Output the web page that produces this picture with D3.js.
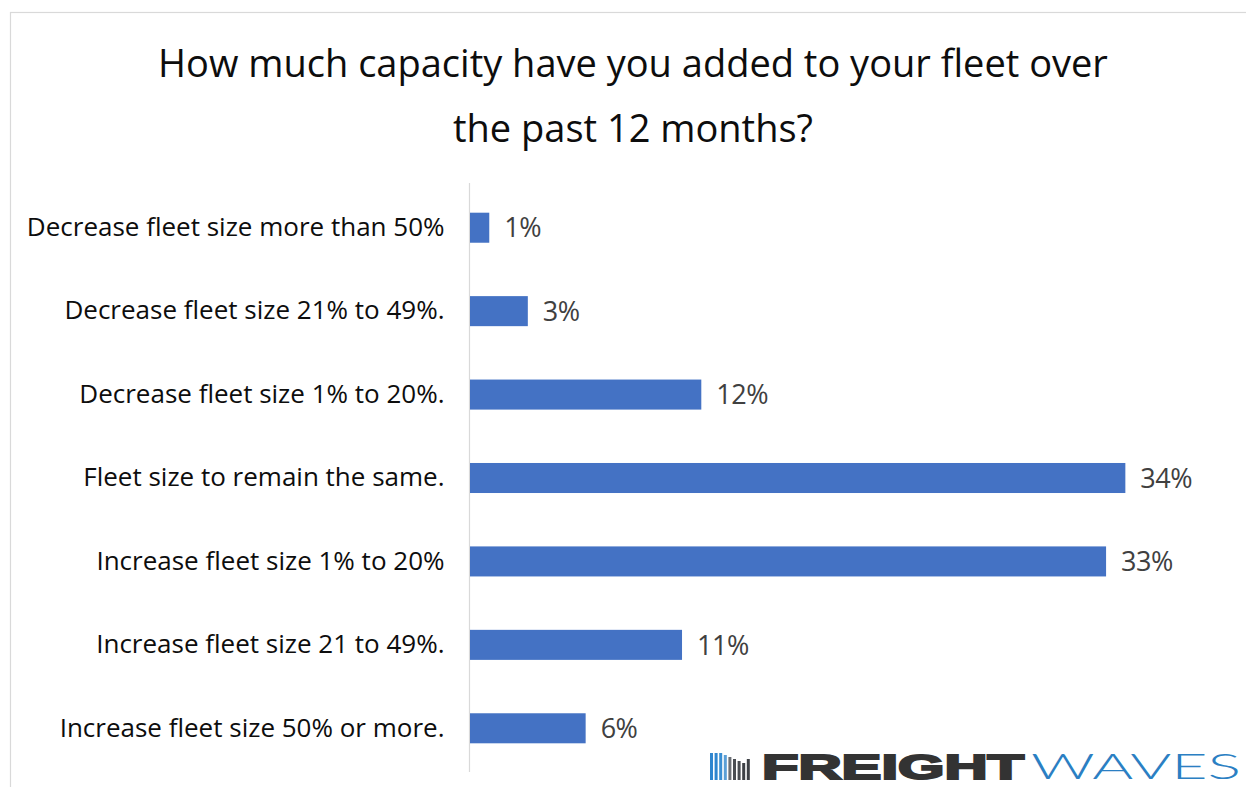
<!DOCTYPE html>
<html>
<head>
<meta charset="utf-8">
<script src="https://cdn.jsdelivr.net/npm/d3@7"></script>
<style>
  html, body { margin: 0; padding: 0; background: #ffffff; }
  svg { display: block; }
</style>
</head>
<body>
<svg id="chart" width="1246" height="787"></svg>
<script>
// Survey answers, top to bottom
const categories = [
  "Decrease fleet size more than 50%",
  "Decrease fleet size 21% to 49%.",
  "Decrease fleet size 1% to 20%.",
  "Fleet size to remain the same.",
  "Increase fleet size 1% to 20%",
  "Increase fleet size 21 to 49%.",
  "Increase fleet size 50% or more."
];
// Share of respondents, in percent
const shares = [1, 3, 12, 34, 33, 11, 6];
const titleLines = [
  "How much capacity have you added to your fleet over",
  "the past 12 months?"
];

const data = categories.map((c, i) => ({ category: c, value: shares[i] }));

const svg = d3.select("#chart");
const W = 1246, H = 787;
const FONT = "'Open Sans', 'Noto Sans', sans-serif";

// Outer frame of the chart area
svg.append("rect")
  .attr("x", 10.5).attr("y", 12.5)
  .attr("width", W + 20).attr("height", H + 20)
  .attr("fill", "#ffffff")
  .attr("stroke", "#d9d9d9")
  .attr("stroke-width", 1.2);

// Title
svg.append("g").selectAll("text")
  .data(titleLines)
  .join("text")
  .attr("x", 633)
  .attr("y", (d, i) => 77 + i * 65)
  .attr("text-anchor", "middle")
  .attr("font-family", FONT)
  .attr("font-size", 38)
  .attr("font-weight", 500)
  .attr("fill", "#0d0d0d")
  .text(d => d);

const x = d3.scaleLinear().domain([0, 40]).range([470, 1241]);
const y = d3.scaleBand()
  .domain(categories)
  .range([186, 770])
  .paddingInner(0.64)
  .paddingOuter(0.32);

// Category axis: the vertical line plus the answer labels
const yAxis = d3.axisLeft(y).tickSize(0).tickPadding(25);
const gy = svg.append("g")
  .attr("transform", `translate(${x(0) - 0.5},0)`)
  .call(yAxis);
gy.select(".domain").remove();
gy.append("line")
  .attr("x1", 0).attr("x2", 0)
  .attr("y1", 183).attr("y2", 772)
  .attr("stroke", "#d9d9d9")
  .attr("stroke-width", 1.2);
gy.selectAll(".tick text")
  .attr("font-family", FONT)
  .attr("font-size", 26)
  .attr("fill", "#0d0d0d");

// Bars
svg.append("g").selectAll("rect")
  .data(data)
  .join("rect")
  .attr("x", x(0))
  .attr("y", d => y(d.category))
  .attr("width", d => x(d.value) - x(0))
  .attr("height", y.bandwidth())
  .attr("fill", "#4472c4");

// Value labels
svg.append("g").selectAll("text")
  .data(data)
  .join("text")
  .attr("x", d => x(d.value) + 15)
  .attr("y", d => y(d.category) + y.bandwidth() / 2)
  .attr("dy", "0.36em")
  .attr("font-family", FONT)
  .attr("font-size", 27)
  .attr("letter-spacing", "-0.5")
  .attr("fill", "#404040")
  .text(d => d.value + "%");

// FreightWaves wordmark in the lower right corner
const logo = svg.append("g");
const iconBars = [
  { h: 27, c: "#2f86cf" }, { h: 27, c: "#2f86cf" }, { h: 27, c: "#3a8fd3" },
  { h: 25, c: "#5a9fd6" }, { h: 23, c: "#6b6f75" }, { h: 21, c: "#4a4d52" },
  { h: 19, c: "#4a4d52" }, { h: 17, c: "#3d4045" }, { h: 21, c: "#3d4045" }
];
logo.selectAll("rect")
  .data(iconBars)
  .join("rect")
  .attr("x", (d, i) => 710 + i * 4.6)
  .attr("y", d => 780 - d.h)
  .attr("width", 3)
  .attr("height", d => d.h)
  .attr("fill", d => d.c);
logo.append("text")
  .attr("x", 762).attr("y", 779)
  .attr("font-family", "'Liberation Sans', Arial, sans-serif")
  .attr("font-weight", 900)
  .attr("font-size", 35)
  .attr("fill", "#333333")
  .attr("stroke", "#333333")
  .attr("stroke-width", 2)
  .attr("textLength", 262)
  .attr("lengthAdjust", "spacingAndGlyphs")
  .text("FREIGHT");
logo.append("text")
  .attr("x", 1031).attr("y", 779)
  .attr("font-family", "Lato, 'Open Sans', sans-serif")
  .attr("font-weight", 300)
  .attr("font-size", 36)
  .attr("fill", "#2b7fc3")
  .attr("textLength", 210)
  .attr("lengthAdjust", "spacingAndGlyphs")
  .text("WAVES");
</script>
</body>
</html>
